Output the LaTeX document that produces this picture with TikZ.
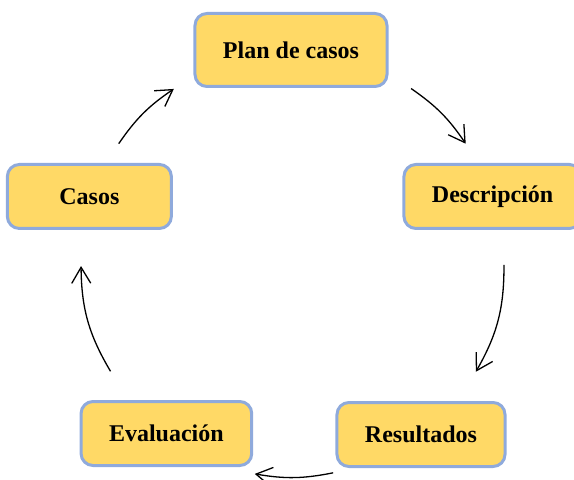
\documentclass[tikz,border=0pt]{standalone}
\usepackage{fontspec}
\setmainfont{Liberation Serif}
\usetikzlibrary{arrows.meta}
\usetikzlibrary{positioning}

\definecolor{stagefill}{HTML}{FFD966}
\definecolor{stageline}{HTML}{8FAADC}

\begin{document}
\begin{tikzpicture}[
    >={Straight Barb[length=8pt,width=9.5pt]},
    every node/.style={font=\fontsize{12}{14}\selectfont\bfseries},
    stage/.style={rectangle, draw=stageline, line width=1.5pt, fill=stagefill, rounded corners=6pt, minimum width=82pt, minimum height=32pt, inner xsep=14pt, align=center},
    link/.style={->, line width=0.65pt}
]
\useasboundingbox (-145.5pt,-109pt) rectangle (141.5pt,131pt);

% Nodes
\node[stage, minimum height=36.5pt] (plan) at (90:106pt) {Plan de casos};
\node[stage] (desc) at (18:106pt) {Descripción};
\node[stage] (res) at (-53:108pt) {Resultados};
\node[stage] (eval) at (-126:106pt) {Evaluación};
\node[stage] (casos) at (162:106pt) {Casos};

% Arrow ends
\coordinate (c1) at (145.5:104.5pt);
\coordinate (c2) at (124.1:104.5pt);
\coordinate (p1) at (55.3:105.5pt);
\coordinate (p2) at (34.1:105.5pt);
\coordinate (d1) at (-0.8:106.5pt);
\coordinate (d2) at (-30.7:107.5pt);
\coordinate (r1) at (-78.7:107.5pt);
\coordinate (r2) at (-99.7:107.5pt);
\coordinate (e1) at (211.2:105.5pt);
\coordinate (e2) at (181.1:105pt);

% Edges
\draw[link] (c1) to[bend left=10.7] (c2);
\draw[link] (p1) to[bend left=10.6] (p2);
\draw[link] (d1) to[bend left=15] (d2);
\draw[link] (r1) to[bend left=10.5] (r2);
\draw[link] (e1) to[bend left=15] (e2);

\end{tikzpicture}
\end{document}
